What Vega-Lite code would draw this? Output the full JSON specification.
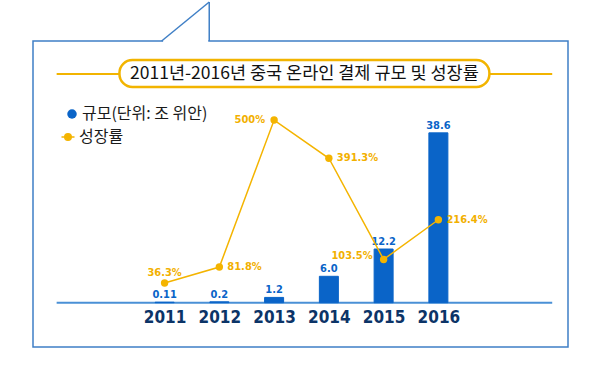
{
  "$schema": "https://vega.github.io/schema/vega-lite/v6.json",
  "width": 535,
  "height": 306,
  "autosize": {"type": "none"},
  "padding": {"left": 33, "top": 41, "right": 32, "bottom": 22},
  "background": "white",
  "config": {
    "view": {"stroke": "#3f7fc6", "strokeWidth": 1.5},
    "legend": {"labelFont": "Noto Sans CJK KR", "labelFontSize": 16, "labelColor": "#1a1a1a", "title": null}
  },
  "data": {"values": [
    {"year": 2011, "size": 0.11, "sizeLabel": "0.11", "rate": 36.3, "rateLabel": "36.3%"},
    {"year": 2012, "size": 0.2, "sizeLabel": "0.2", "rate": 81.8, "rateLabel": "81.8%"},
    {"year": 2013, "size": 1.2, "sizeLabel": "1.2", "rate": 500, "rateLabel": "500%"},
    {"year": 2014, "size": 6.0, "sizeLabel": "6.0", "rate": 391.3, "rateLabel": "391.3%"},
    {"year": 2015, "size": 12.2, "sizeLabel": "12.2", "rate": 103.5, "rateLabel": "103.5%"},
    {"year": 2016, "size": 38.6, "sizeLabel": "38.6", "rate": 216.4, "rateLabel": "216.4%"}
  ]},
  "layer": [
    {
      "layer": [
        {
          "data": {"values": [{}]},
          "mark": {"type": "rule", "color": "#f2b400", "strokeWidth": 2},
          "encoding": {
            "x": {"datum": 2009.0285, "type": "quantitative"},
            "x2": {"datum": 2018.079},
            "y": {"datum": 51.977, "type": "quantitative", "scale": {"domain": [-10.068, 59.477], "nice": false, "zero": false}, "axis": null}
          }
        },
        {
          "data": {"values": [{}]},
          "mark": {"type": "rect", "fill": "white", "stroke": "#f2b400", "strokeWidth": 2.5, "cornerRadius": 13},
          "encoding": {
            "x": {"datum": 2010.1755, "type": "quantitative"},
            "x2": {"datum": 2016.932},
            "y": {"datum": 55.159, "type": "quantitative", "scale": {"domain": [-10.068, 59.477], "nice": false, "zero": false}, "axis": null},
            "y2": {"datum": 49.023}
          }
        },
        {
          "data": {"values": [{}]},
          "mark": {"type": "text", "font": "Noto Sans CJK KR", "fontSize": 17.5, "color": "#111111", "align": "center", "baseline": "middle", "text": "2011년-2016년 중국 온라인 결제 규모 및 성장률"},
          "encoding": {
            "x": {"datum": 2013.5536, "type": "quantitative"},
            "y": {"datum": 51.977, "type": "quantitative", "scale": {"domain": [-10.068, 59.477], "nice": false, "zero": false}, "axis": null}
          }
        },
        {
          "data": {"values": [{}]},
          "mark": {"type": "rule", "color": "white", "strokeWidth": 3},
          "encoding": {
            "x": {"datum": 2010.973, "type": "quantitative"},
            "x2": {"datum": 2011.797},
            "y": {"datum": 59.477, "type": "quantitative", "scale": {"domain": [-10.068, 59.477], "nice": false, "zero": false}, "axis": null}
          }
        },
        {
          "data": {"values": [{}]},
          "mark": {"type": "rule", "color": "#3f7fc6", "strokeWidth": 1.5},
          "encoding": {
            "x": {"datum": 2010.946, "type": "quantitative"},
            "x2": {"datum": 2011.8153},
            "y": {"datum": 59.477, "type": "quantitative", "scale": {"domain": [-10.068, 59.477], "nice": false, "zero": false}, "axis": null},
            "y2": {"datum": 68.341}
          }
        },
        {
          "data": {"values": [{}]},
          "mark": {"type": "rule", "color": "#3f7fc6", "strokeWidth": 1.5},
          "encoding": {
            "x": {"datum": 2011.8153, "type": "quantitative"},
            "y": {"datum": 59.477, "type": "quantitative", "scale": {"domain": [-10.068, 59.477], "nice": false, "zero": false}, "axis": null},
            "y2": {"datum": 68.341}
          }
        },
        {
          "data": {"values": [{}]},
          "mark": {"type": "rule", "color": "#4a90d6", "strokeWidth": 2},
          "encoding": {
            "x": {"datum": 2009.0285, "type": "quantitative"},
            "x2": {"datum": 2018.079},
            "y": {"datum": 0, "type": "quantitative", "scale": {"domain": [-10.068, 59.477], "nice": false, "zero": false}, "axis": null}
          }
        },
        {
          "mark": {"type": "bar", "width": 19, "stroke": "#0a64c8", "strokeWidth": 1},
          "encoding": {
            "x": {
              "field": "year", "type": "quantitative",
              "scale": {"domain": [2008.688, 2018.276], "nice": false, "zero": false},
              "axis": {
                "orient": "bottom", "offset": -44.3, "values": [2011, 2012, 2013, 2014, 2015, 2016], "format": "d",
                "domain": false, "ticks": false, "grid": false, "title": null,
                "labelFont": "DejaVu Sans Condensed, DejaVu Sans, sans-serif", "labelFontWeight": "bold", "labelFontSize": 17,
                "labelColor": "#0c3467", "labelPadding": 7, "labelFlush": false, "labelOverlap": false
              }
            },
            "y": {"field": "size", "type": "quantitative", "scale": {"domain": [-10.068, 59.477], "nice": false, "zero": false}, "axis": null},
            "fill": {
              "datum": "규모(단위: 조 위안)",
              "scale": {"range": ["#0a64c8"]},
              "legend": {"orient": "none", "legendX": 31, "legendY": 65, "symbolType": "circle", "symbolSize": 90, "symbolStrokeWidth": 0, "labelOffset": 2}
            }
          }
        },
        {
          "mark": {"type": "text", "font": "DejaVu Sans Condensed, DejaVu Sans, sans-serif", "fontWeight": "bold", "fontSize": 11, "color": "#0a64c8", "align": "center", "baseline": "bottom", "dy": -2},
          "encoding": {
            "x": {"field": "year", "type": "quantitative"},
            "y": {"field": "size", "type": "quantitative", "scale": {"domain": [-10.068, 59.477], "nice": false, "zero": false}, "axis": null},
            "text": {"field": "sizeLabel"}
          }
        }
      ]
    },
    {
      "layer": [
        {
          "mark": {"type": "line", "strokeWidth": 1.5},
          "encoding": {
            "x": {"field": "year", "type": "quantitative"},
            "y": {"field": "rate", "type": "quantitative", "scale": {"domain": [-145.66, 724.9], "nice": false, "zero": false}, "axis": null},
            "stroke": {
              "datum": "성장률",
              "scale": {"range": ["#f4b400"]},
              "legend": {
                "orient": "none", "legendX": 27, "legendY": 88,
                "symbolType": "M-1,0L1,0M-0.5,0A0.5,0.5,0,1,1,0.5,0A0.5,0.5,0,1,1,-0.5,0Z",
                "symbolSize": 170, "symbolFillColor": "#f4b400", "symbolStrokeWidth": 1.5, "labelOffset": 3
              }
            }
          }
        },
        {
          "mark": {"type": "point", "filled": true, "size": 55, "color": "#f4b400", "opacity": 1},
          "encoding": {
            "x": {"field": "year", "type": "quantitative"},
            "y": {"field": "rate", "type": "quantitative", "scale": {"domain": [-145.66, 724.9], "nice": false, "zero": false}, "axis": null}
          }
        },
        {
          "transform": [{"filter": {"field": "year", "oneOf": [2011]}}],
          "mark": {"type": "text", "font": "DejaVu Sans Condensed, DejaVu Sans, sans-serif", "fontWeight": "bold", "fontSize": 11, "color": "#f2b000", "align": "center", "baseline": "bottom", "dy": -5},
          "encoding": {
            "x": {"field": "year", "type": "quantitative"},
            "y": {"field": "rate", "type": "quantitative", "scale": {"domain": [-145.66, 724.9], "nice": false, "zero": false}, "axis": null},
            "text": {"field": "rateLabel"}
          }
        },
        {
          "transform": [{"filter": {"field": "year", "oneOf": [2012, 2014, 2016]}}],
          "mark": {"type": "text", "font": "DejaVu Sans Condensed, DejaVu Sans, sans-serif", "fontWeight": "bold", "fontSize": 11, "color": "#f2b000", "align": "left", "baseline": "middle", "dx": 8},
          "encoding": {
            "x": {"field": "year", "type": "quantitative"},
            "y": {"field": "rate", "type": "quantitative", "scale": {"domain": [-145.66, 724.9], "nice": false, "zero": false}, "axis": null},
            "text": {"field": "rateLabel"}
          }
        },
        {
          "transform": [{"filter": {"field": "year", "oneOf": [2013]}}],
          "mark": {"type": "text", "font": "DejaVu Sans Condensed, DejaVu Sans, sans-serif", "fontWeight": "bold", "fontSize": 11, "color": "#f2b000", "align": "right", "baseline": "middle", "dx": -9},
          "encoding": {
            "x": {"field": "year", "type": "quantitative"},
            "y": {"field": "rate", "type": "quantitative", "scale": {"domain": [-145.66, 724.9], "nice": false, "zero": false}, "axis": null},
            "text": {"field": "rateLabel"}
          }
        },
        {
          "transform": [{"filter": {"field": "year", "oneOf": [2015]}}],
          "mark": {"type": "text", "font": "DejaVu Sans Condensed, DejaVu Sans, sans-serif", "fontWeight": "bold", "fontSize": 11, "color": "#f2b000", "align": "right", "baseline": "middle", "dx": -11, "dy": -3},
          "encoding": {
            "x": {"field": "year", "type": "quantitative"},
            "y": {"field": "rate", "type": "quantitative", "scale": {"domain": [-145.66, 724.9], "nice": false, "zero": false}, "axis": null},
            "text": {"field": "rateLabel"}
          }
        }
      ]
    }
  ],
  "resolve": {"scale": {"y": "independent", "fill": "independent", "stroke": "independent"}}
}
